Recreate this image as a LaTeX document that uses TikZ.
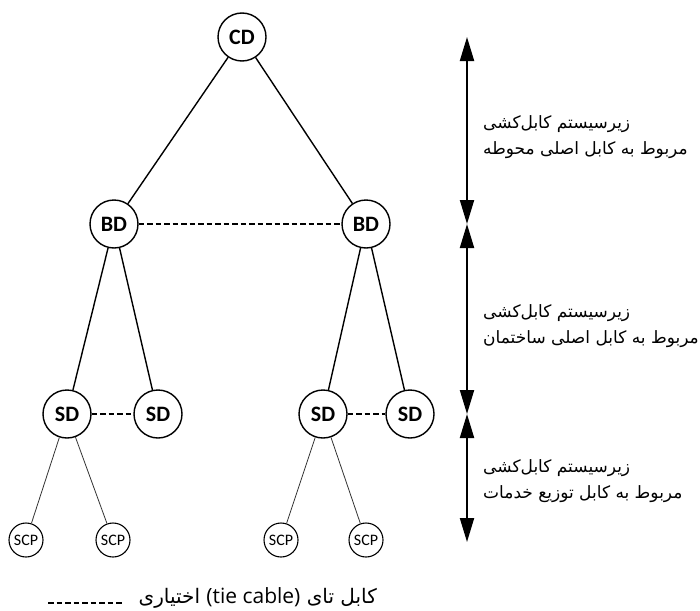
\documentclass[tikz,border=0pt]{standalone}
\usepackage{fontspec}
\setmainfont{Carlito}
\newfontfamily\persianfont[Script=Arabic]{DejaVu Sans}
\newfontfamily\latinfont{Open Sans}
\TeXXeTstate=1
\usetikzlibrary{arrows.meta}

\begin{document}
\begin{tikzpicture}[x=1pt,y=-1pt,
    dist/.style={circle,draw,line width=1.4pt,minimum size=48pt,inner sep=0pt,
      font=\fontsize{22}{22}\selectfont\bfseries},
    outlet/.style={circle,draw,line width=1.1pt,minimum size=34pt,inner sep=0pt,
      font=\fontsize{16}{16}\selectfont},
    cable/.style={line width=1.4pt},
    drop/.style={line width=0.8pt,black!80},
    tie/.style={line width=1.2pt,dash pattern=on 5.5pt off 3pt},
    span/.style={line width=2pt,{Triangle[length=24pt,width=14pt]}-{Triangle[length=24pt,width=14pt]}},
    note/.style={anchor=west,align=left,inner sep=0pt,
      font=\persianfont\fontsize{17}{26}\selectfont}]
  \useasboundingbox (0,0) rectangle (700,610);
  % distributors
  \node[dist] (cd) at (242,37) {CD};
  \node[dist] (bd1) at (114,224) {BD};
  \node[dist] (bd2) at (366,224) {BD};
  \node[dist] (sd1) at (67,414) {SD};
  \node[dist] (sd2) at (158,414) {SD};
  \node[dist] (sd3) at (323,414) {SD};
  \node[dist] (sd4) at (410,414) {SD};
  \node[outlet] (scp1) at (26,540) {SCP};
  \node[outlet] (scp2) at (113,540) {SCP};
  \node[outlet] (scp3) at (281,540) {SCP};
  \node[outlet] (scp4) at (366,540) {SCP};
  % cables
  \draw[cable] (cd) -- (bd1);
  \draw[cable] (cd) -- (bd2);
  \draw[cable] (bd1) -- (sd1);
  \draw[cable] (bd1) -- (sd2);
  \draw[cable] (bd2) -- (sd3);
  \draw[cable] (bd2) -- (sd4);
  \draw[drop] (sd1) -- (scp1);
  \draw[drop] (sd1) -- (scp2);
  \draw[drop] (sd3) -- (scp3);
  \draw[drop] (sd3) -- (scp4);
  \draw[tie] (bd1) -- (bd2);
  \draw[tie] (sd1) -- (sd2);
  \draw[tie] (sd3) -- (sd4);
  % subsystem spans
  \coordinate (a0) at (467,37);
  \coordinate (a1) at (467,224);
  \coordinate (a2) at (467,414);
  \coordinate (a3) at (467,542);
  \draw[span] (a0) -- (a1);
  \draw[span] (a1) -- (a2);
  \draw[span] (a2) -- (a3);
  \node[note] (campus) at (483,137) {\beginR زیرسیستم کابل‌کشی\endR\\\beginR مربوط به کابل اصلی محوطه\endR};
  \node[note] (building) at (483,326) {\beginR زیرسیستم کابل‌کشی\endR\\\beginR مربوط به کابل اصلی ساختمان\endR};
  \node[note] (service) at (483,481) {\beginR زیرسیستم کابل‌کشی\endR\\\beginR مربوط به کابل توزیع خدمات\endR};
  % legend
  \node[anchor=base east,inner sep=0pt,font=\persianfont\fontsize{20}{20}\selectfont] (key) at (377,603)
    {\beginR کابل تای \beginL{\latinfont\fontsize{21}{21}\selectfont(tie cable)}\endL{} اختیاری\endR};
  \coordinate (k0) at (48,603);
  \coordinate (k1) at (124,603);
  \draw[tie] (k0) -- (k1);
\end{tikzpicture}
\end{document}
